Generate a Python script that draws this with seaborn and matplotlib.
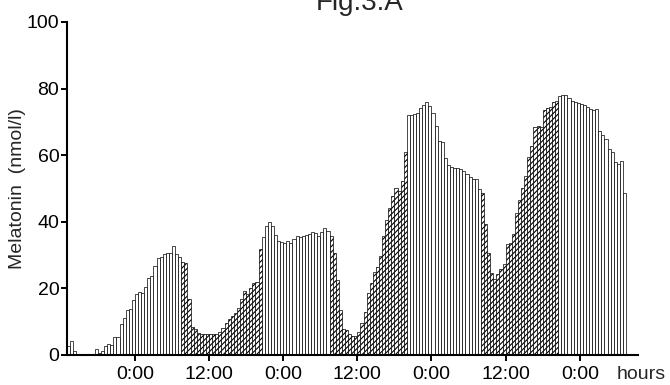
import numpy as np
import pandas as pd
import matplotlib
matplotlib.use("Agg")
import matplotlib.pyplot as plt
import seaborn as sns

# ---- data: melatonin per 30-min bin, first bin starts 11 h before the first 0:00 ----
start_hour = -11.0
bin_hours = 0.5

night_1 = [2.6, 4.3, 1.1, 0, 0, 0, 0, 0, 0, 1.9, 0.6, 1.3, 2.6, 3.4, 2.9, 5.3, 5.3,
           9.2, 11.0, 13.5, 13.9, 16.5, 18.2, 19.0, 18.7, 20.4, 23.0, 23.7, 26.7,
           29.2, 29.5, 30.4, 30.7, 30.7, 32.7, 30.4, 29.5]
day_1 = [28.0, 27.7, 16.7, 8.5, 7.7, 6.5, 6.2, 6.2, 6.2, 6.2, 6.2, 6.3, 6.8, 8.2,
         9.7, 10.9, 11.6, 12.7, 14.2, 16.8, 19.2, 18.4, 20.2, 21.7, 21.8, 31.7]
night_2 = [35.5, 38.7, 39.8, 38.7, 36.0, 34.3, 33.9, 33.7, 34.2, 33.5, 34.9, 35.7,
           35.5, 35.7, 35.9, 36.4, 36.9, 36.7, 35.8, 36.9, 38.2, 37.2]
day_2 = [35.7, 30.7, 22.5, 13.5, 7.7, 7.4, 6.4, 5.8, 5.6, 6.8, 9.5, 13.0, 18.7,
         21.7, 25.0, 26.5, 29.7, 35.7, 40.5, 44.2, 47.7, 50.0, 49.3, 52.3, 60.9]
night_3 = [72.0, 72.2, 72.5, 72.7, 74.2, 75.2, 75.9, 74.9, 72.7, 68.7, 64.2, 64.0,
           59.2, 56.9, 56.5, 56.2, 56.0, 55.7, 55.2, 54.2, 53.5, 52.9, 52.7, 49.9]
day_3 = [48.7, 39.2, 30.7, 24.7, 22.7, 24.2, 25.7, 27.2, 33.2, 33.7, 36.2, 42.7,
         46.5, 50.0, 53.7, 59.3, 62.7, 68.5, 68.7, 68.6, 73.7, 74.2, 74.5, 76.0, 76.2]
night_4 = [77.7, 78.2, 78.0, 77.2, 76.2, 75.9, 75.7, 75.5, 75.2, 74.5, 73.9, 73.5,
           73.9, 67.2, 66.2, 64.9, 61.9, 60.9, 58.0, 57.2, 58.2, 48.7]

blocks = [("night", night_1), ("day", day_1), ("night", night_2), ("day", day_2),
          ("night", night_3), ("day", day_3), ("night", night_4)]

tick_hours = [0, 12, 24, 36, 48, 60, 72]
tick_labels = ["0:00", "12:00", "0:00", "12:00", "0:00", "12:00", "0:00"]
y_ticks = [0, 20, 40, 60, 80, 100]

values, phases = [], []
for ph, vals in blocks:
    values += vals
    phases += [ph] * len(vals)
hours = start_hour + bin_hours * np.arange(len(values)) + bin_hours / 2
df = pd.DataFrame({"hour": hours, "melatonin": values, "phase": phases})

# ---- style ----
sns.set_style("ticks")
plt.rcParams["font.family"] = ["Liberation Sans", "DejaVu Sans"]
plt.rcParams["hatch.linewidth"] = 0.8
plt.rcParams["hatch.color"] = "black"

fig = plt.figure(figsize=(6.7, 3.85), dpi=100)
ax = fig.add_axes([0.1, 0.078, 0.852, 0.865])

for ph, hatch in (("night", None), ("day", "//////")):
    sub = df[df["phase"] == ph]
    sns.barplot(data=sub, x="hour", y="melatonin", native_scale=True, width=1.0,
                color="white", saturation=1, edgecolor="black", linewidth=0.5,
                hatch=hatch, errorbar=None, ax=ax)

ax.set_xlim(-11, 81.4)
ax.set_ylim(0, 100)
ax.set_xticks(tick_hours)
ax.set_xticklabels(tick_labels)
ax.set_yticks(y_ticks)
ax.set_xlabel("")
ax.set_ylabel("Melatonin  (nmol/l)", fontsize=14, labelpad=0.5)
sns.despine(ax=ax)
for s in ("left", "bottom"):
    ax.spines[s].set_linewidth(1.5)
    ax.spines[s].set_color("black")
ax.tick_params(axis="both", direction="out", length=4, width=1.4, labelsize=14,
               colors="black")
ax.tick_params(axis="y", pad=1.5)
ax.tick_params(axis="x", pad=4)

ax.annotate("hours", xy=(0.963, 0), xycoords="axes fraction",
            xytext=(0, -8), textcoords="offset points",
            ha="left", va="top", fontsize=14)

fig.text(0.537, 0.974, "Fig.3.A", ha="center", va="baseline", fontsize=20)

fig.savefig("out.png", dpi=100)
